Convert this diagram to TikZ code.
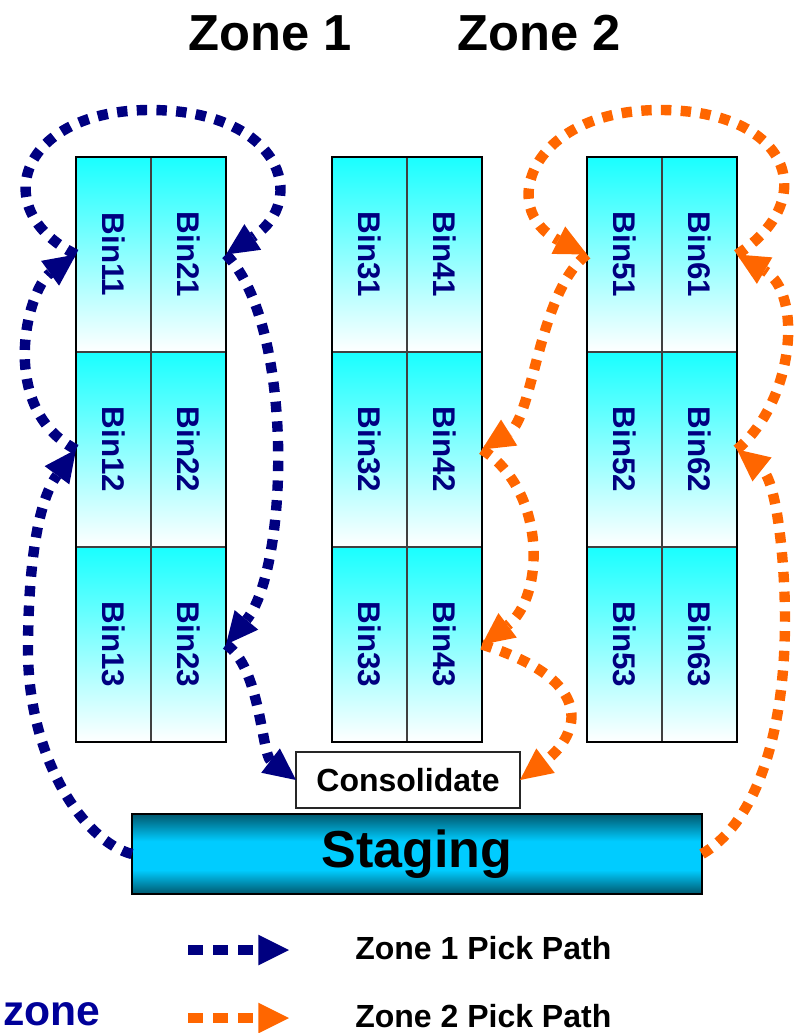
\documentclass[tikz,border=0pt]{standalone}
\usepackage{fontspec}
\usepackage{graphicx}
\setmainfont{Liberation Sans}
\usetikzlibrary{arrows.meta}
\definecolor{navyc}{RGB}{0,0,128}
\definecolor{orangec}{RGB}{255,102,0}
\definecolor{zoneblue}{RGB}{0,0,153}
\definecolor{cellc}{RGB}{25,255,255}
\definecolor{stgd}{RGB}{0,88,110}
\definecolor{stgl}{RGB}{0,204,255}
\pgfdeclareverticalshading{cellsh}{100bp}{color(0bp)=(white); color(25bp)=(white); color(75bp)=(cellc); color(100bp)=(cellc)}
\pgfdeclareverticalshading{stgsh}{100bp}{color(0bp)=(stgd); color(25bp)=(stgd); color(40bp)=(stgl); color(58bp)=(stgl); color(75bp)=(stgd); color(100bp)=(stgd)}
\begin{document}
\begin{tikzpicture}[x=0.75pt,y=-0.75pt,
  cell/.style={rectangle, shading=cellsh, draw=black!75, line width=0.9pt,
    minimum width=56.25pt, minimum height=146.25pt, inner sep=0pt, outer sep=0pt,
    font=\fontsize{23.5}{26}\selectfont\bfseries, text=navyc},
  grp/.style={draw=black, line width=1.8pt},
  stgbox/.style={rectangle, shading=stgsh, draw=black, line width=1.5pt,
    minimum width=427.5pt, minimum height=60pt, inner sep=0pt, outer sep=0pt,
    font=\fontsize{39}{42}\selectfont\bfseries},
  consbox/.style={rectangle, fill=white, draw=black!85, line width=1.2pt,
    minimum width=168pt, minimum height=42pt, inner sep=0pt, outer sep=0pt,
    font=\fontsize{24}{28}\selectfont\bfseries},
  title/.style={anchor=base, inner sep=0pt, font=\fontsize{38}{42}\selectfont\bfseries},
  legtxt/.style={anchor=base west, inner sep=0pt, font=\fontsize{24}{28}\selectfont\bfseries},
  zonelbl/.style={anchor=base west, inner sep=0pt, font=\fontsize{32}{36}\selectfont\bfseries, text=zoneblue},
  zpath/.style={line width=7.8pt, dash pattern=on 7.8pt off 7pt,
    -{Triangle[length=24pt,width=23pt,line width=0pt]}},
  zone1/.style={zpath, draw=navyc, color=navyc},
  zone2/.style={zpath, draw=orangec, color=orangec},
  legpath/.style={line width=8pt, dash pattern=on 11.25pt off 7.5pt,
    -{Triangle[length=23pt,width=23pt,line width=0pt]}}
]
\useasboundingbox (0,0) rectangle (798,1033);

% titles
\node[title] (t1) at (270,50) {Zone 1};
\node[title] (t2) at (539,50) {Zone 2};

% bins
\foreach \col/\x in {1/113.5,2/188.5,3/369.5,4/444.5,5/624.5,6/699.5}{
  \foreach \row/\y in {1/254.5,2/449.5,3/644.5}{
    \node[cell] (b\col\row) at (\x,\y) {\rotatebox{-90}{Bin\col\row}};
  }
}
\draw[grp] (b11.north west) rectangle (b23.south east);
\draw[grp] (b31.north west) rectangle (b43.south east);
\draw[grp] (b51.north west) rectangle (b63.south east);

% consolidate and staging
\node[consbox] (cons) at (408,780) {Consolidate};
\node[stgbox] (stg) at (417,854) {Staging};

% zone 1 pick path
\draw[zone1] (stg.west) .. controls (85,842) and (28,760) .. (28,650)
   .. controls (28,600) and (32,509) .. (b12.west);
\draw[zone1] (b12.west) .. controls (-3,408) and (27,290) .. (b11.west);
\draw[zone1] (b11.west) .. controls (-14,209.5) and (20,110) .. (150,110)
   .. controls (280,110) and (310,199.5) .. (b21.east);
\draw[zone1] (b21.east) .. controls (295,324) and (289,568.5) .. (b23.east);
\draw[zone1] (b23.east) .. controls (260,666.5) and (262,754) .. (cons.west);

% zone 2 pick path
\draw[zone2] (stg.east) .. controls (758,821) and (785,730) .. (785,620)
   .. controls (785,560) and (776.5,481) .. (b62.east);
\draw[zone2] (b62.east) .. controls (795,400) and (803,293) .. (b61.east);
\draw[zone2] (b61.east) .. controls (822,199.5) and (790,110) .. (660,110)
   .. controls (530,110) and (497,209.5) .. (b51.west);
\draw[zone2] (b51.west) .. controls (539,290.5) and (533,417.7) .. (b42.east);
\draw[zone2] (b42.east) .. controls (547.5,491.6) and (544.4,597.7) .. (b43.east);
\draw[zone2] (b43.east) .. controls (607,684) and (573,740) .. (cons.east);

% legend
\coordinate (l1s) at (188,950);
\coordinate (l1e) at (289,950);
\coordinate (l2s) at (188,1018);
\coordinate (l2e) at (289,1018);
\draw[legpath, draw=navyc, color=navyc] (l1s) -- (l1e);
\draw[legpath, draw=orangec, color=orangec] (l2s) -- (l2e);
\node[legtxt] (l1t) at (355,959) {Zone 1 Pick Path};
\node[legtxt] (l2t) at (355,1027) {Zone 2 Pick Path};
\node[zonelbl] (zn) at (3,1025) {zone};
\end{tikzpicture}
\end{document}
